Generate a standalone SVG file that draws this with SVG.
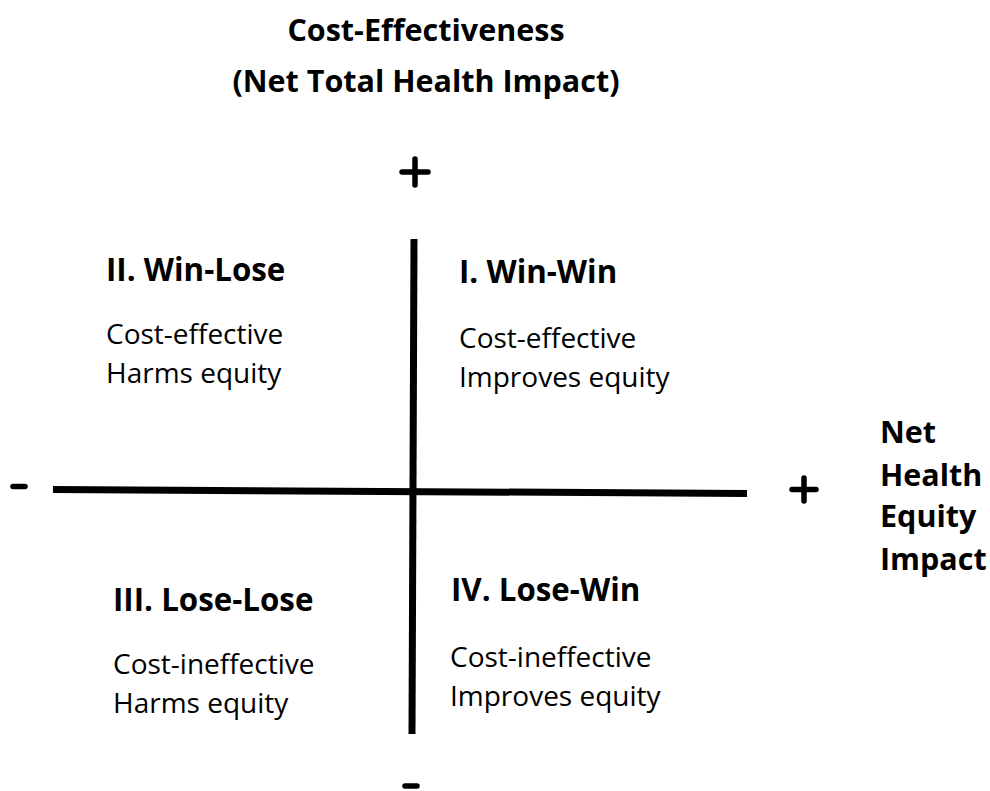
<svg xmlns="http://www.w3.org/2000/svg" width="990" height="791" viewBox="0 0 990 791">
<style>
.h{font-family:"Open Sans","Liberation Sans",sans-serif;font-weight:bold;font-size:31.3px;fill:#000}
.t{font-family:"Open Sans","Liberation Sans",sans-serif;font-weight:bold;font-size:30.5px;fill:#000}
.r{font-family:"Open Sans","Liberation Sans",sans-serif;font-weight:bold;font-size:30.5px;fill:#000}
.b{font-family:"Open Sans","Liberation Sans",sans-serif;font-size:28px;fill:#000}
.ax{stroke:#000;stroke-width:7;fill:none}
.sg{stroke:#000;stroke-width:5.5;fill:none;stroke-linecap:round}
</style>
<rect width="990" height="791" fill="#fff"/>
<g id="title">
<text class="t" x="426" y="41" text-anchor="middle">Cost-Effectiveness</text>
<text class="t" x="426" y="92" text-anchor="middle">(Net Total Health Impact)</text>
</g>
<g id="connectors">
<line class="ax" x1="53" y1="489.5" x2="747" y2="493.5"/>
<line class="ax" x1="414" y1="239" x2="412" y2="734"/>
</g>
<g id="signs">
<path class="sg" d="M402 172H428M415 159V185"/>
<path class="sg" d="M792 489.5H816M804 478V501"/>
<path class="sg" stroke-width="7" d="M13 486.5H25"/>
<path class="sg" stroke-width="6" d="M405 786H417"/>
</g>
<g id="q2">
<text class="h" x="106" y="281">II. Win-Lose</text>
<text class="b" x="106" y="344">Cost-effective</text>
<text class="b" x="106" y="383">Harms equity</text>
</g>
<g id="q1">
<text class="h" x="459" y="283">I. Win-Win</text>
<text class="b" x="459" y="348">Cost-effective</text>
<text class="b" x="459" y="387">Improves equity</text>
</g>
<g id="q3">
<text class="h" x="113" y="611">III. Lose-Lose</text>
<text class="b" x="113" y="674">Cost-ineffective</text>
<text class="b" x="113" y="713">Harms equity</text>
</g>
<g id="q4">
<text class="h" x="451" y="601">IV. Lose-Win</text>
<text class="b" x="450" y="667">Cost-ineffective</text>
<text class="b" x="450" y="706">Improves equity</text>
</g>
<g id="xlabel">
<text class="r" x="880" y="443">Net</text>
<text class="r" x="880" y="486">Health</text>
<text class="r" x="880" y="527">Equity</text>
<text class="r" x="880" y="570">Impact</text>
</g>
</svg>
